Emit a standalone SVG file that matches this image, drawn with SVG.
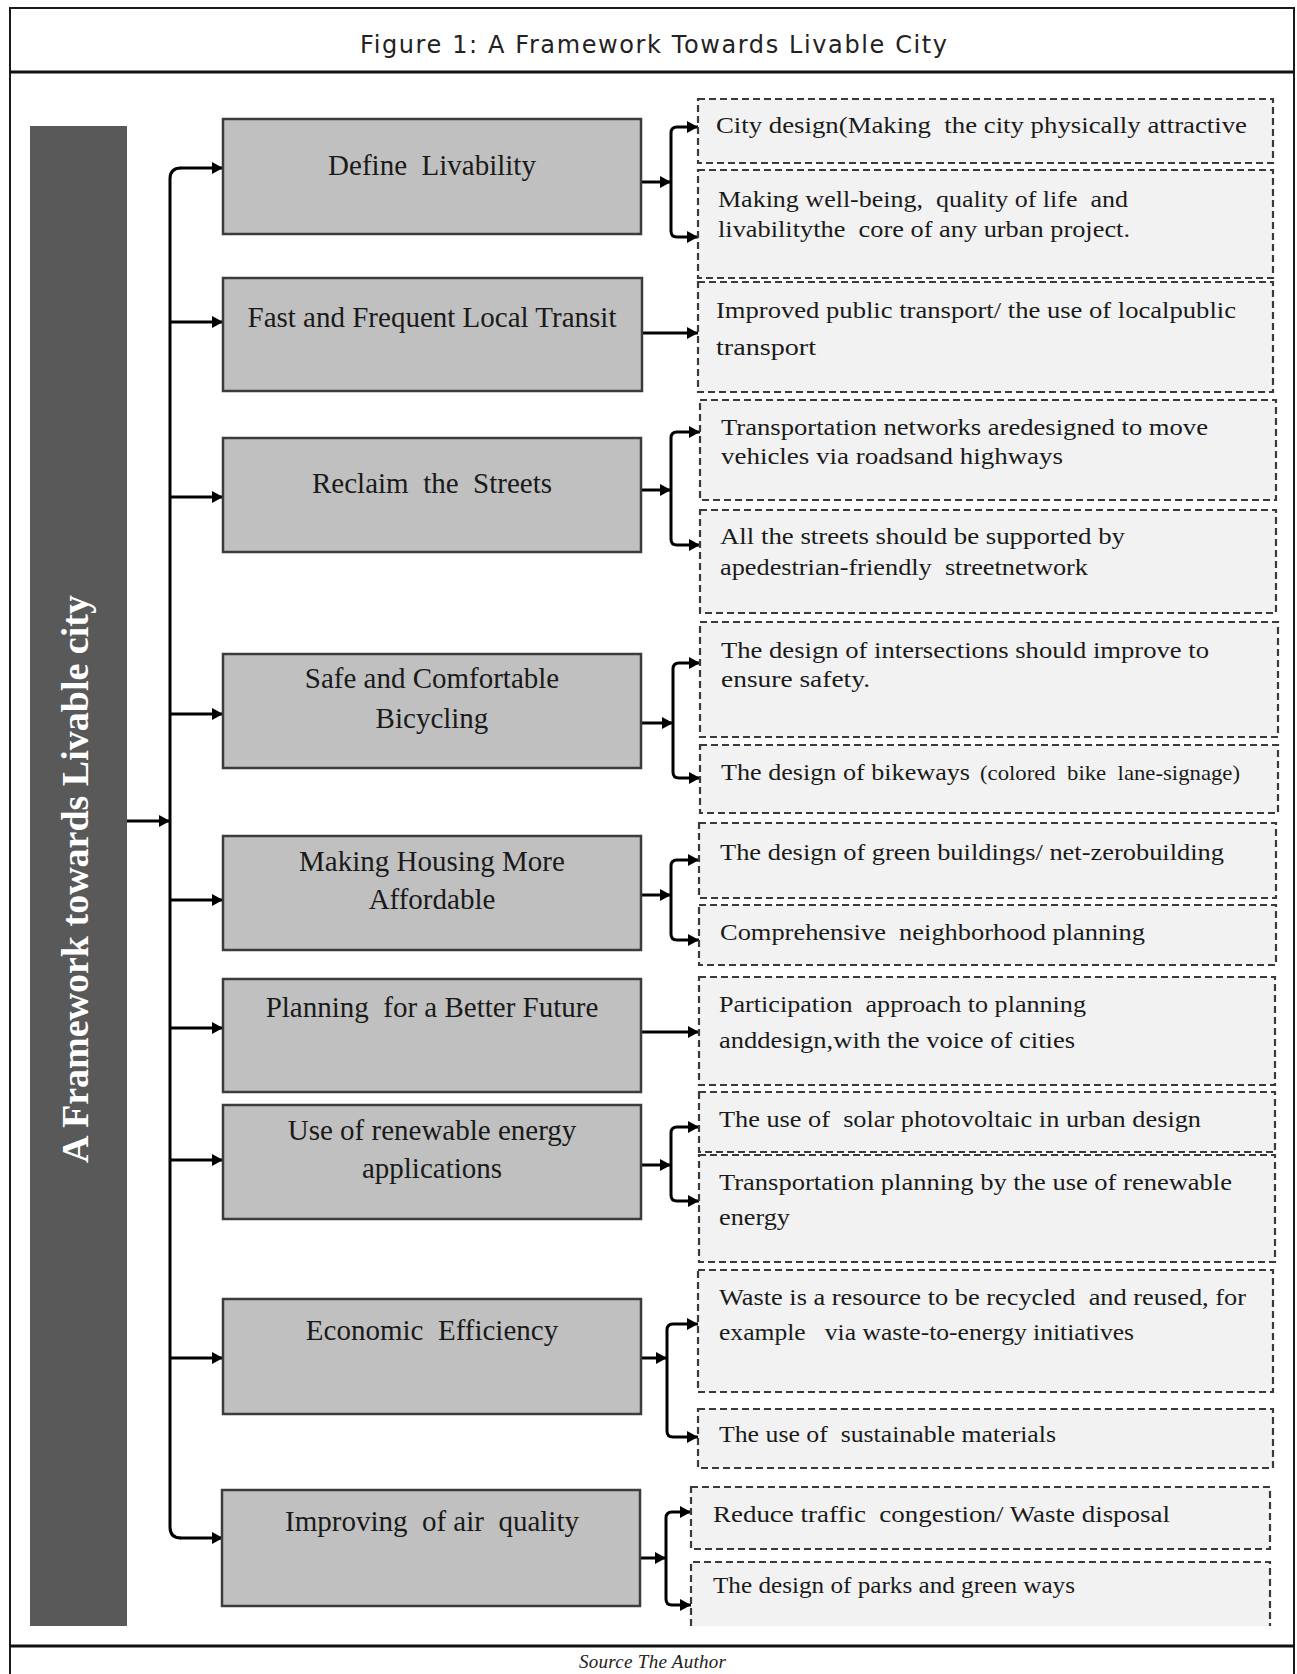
<svg xmlns="http://www.w3.org/2000/svg" width="1297" height="1674" viewBox="0 0 1297 1674">
<style>
text{white-space:pre}
.frame{fill:none;stroke:#1a1a1a;stroke-width:2}
.sep{stroke:#111;stroke-width:3}
.title{font-family:"DejaVu Sans","Liberation Sans",sans-serif;font-size:24px;fill:#222}
.src{font-family:"Liberation Serif",serif;font-style:italic;font-size:19px;fill:#222}
.bar{fill:#595959}
.bartxt{font-family:"Liberation Serif",serif;font-weight:bold;font-size:38px;fill:#fff}
.mbox{fill:#c0c0c0;stroke:#3c3c3c;stroke-width:2.5}
.mtxt{font-family:"Liberation Serif",serif;font-size:29px;fill:#1a1a1a;text-anchor:middle}
.dbox{fill:#f2f2f2;stroke:#3a3a3a;stroke-width:2.2;stroke-dasharray:7 4}
.dfill{fill:#f2f2f2}
.dtxt{font-family:"Liberation Serif",serif;font-size:24px;fill:#1a1a1a}
.stxt{font-family:"Liberation Serif",serif;font-size:21px;fill:#1a1a1a}
.ln{fill:none;stroke:#000;stroke-width:3}
.ar{fill:none;stroke:#000;stroke-width:3;marker-end:url(#ah)}
</style>
<defs>
<marker id="ah" viewBox="0 0 10 10" refX="10" refY="5" markerWidth="11" markerHeight="12" markerUnits="userSpaceOnUse" orient="auto" preserveAspectRatio="none">
<path d="M0,0 L10,5 L0,10 z" fill="#000"/>
</marker>
</defs>
<rect x="0" y="0" width="1297" height="1674" fill="#fff"/>
<g id="frame">
<rect class="frame" x="10" y="8" width="1284" height="1680"/>
<line class="sep" x1="10" y1="72" x2="1294" y2="72"/>
<line class="sep" x1="10" y1="1646" x2="1294" y2="1646"/>
<text class="title" x="360" y="53" textLength="587">Figure 1: A Framework Towards Livable City</text>
<text class="src" x="579" y="1668" textLength="147">Source The Author</text>
</g>
<g id="root-node">
<rect class="bar" x="30" y="126" width="97" height="1500"/>
<text class="bartxt" transform="translate(88,879) rotate(-90)" text-anchor="middle">A Framework towards Livable city</text>
</g>
<g id="connectors">
<line class="ar" x1="127" y1="821" x2="170" y2="821"/>
<path class="ln" d="M181,168 Q170,168 170,179 V1527 Q170,1538 181,1538"/>
<line class="ar" x1="180" y1="168" x2="223" y2="168"/>
<line class="ar" x1="170" y1="322" x2="223" y2="322"/>
<line class="ar" x1="170" y1="497" x2="223" y2="497"/>
<line class="ar" x1="170" y1="714" x2="223" y2="714"/>
<line class="ar" x1="170" y1="900" x2="223" y2="900"/>
<line class="ar" x1="170" y1="1028" x2="223" y2="1028"/>
<line class="ar" x1="170" y1="1160" x2="223" y2="1160"/>
<line class="ar" x1="170" y1="1358" x2="223" y2="1358"/>
<line class="ar" x1="180" y1="1538" x2="223" y2="1538"/>
<line class="ar" x1="641" y1="182" x2="671" y2="182"/>
<path class="ar" d="M671,182 V133 Q671,127 677,127 H698"/>
<path class="ar" d="M671,182 V231 Q671,237 677,237 H698"/>
<line class="ar" x1="642" y1="333" x2="698" y2="333"/>
<line class="ar" x1="641" y1="490" x2="671" y2="490"/>
<path class="ar" d="M671,490 V438 Q671,432 677,432 H700"/>
<path class="ar" d="M671,490 V539 Q671,545 677,545 H700"/>
<line class="ar" x1="641" y1="723" x2="673" y2="723"/>
<path class="ar" d="M673,723 V669 Q673,663 679,663 H700"/>
<path class="ar" d="M673,723 V772 Q673,778 679,778 H700"/>
<line class="ar" x1="641" y1="895" x2="671" y2="895"/>
<path class="ar" d="M671,895 V866 Q671,860 677,860 H699"/>
<path class="ar" d="M671,895 V934 Q671,940 677,940 H699"/>
<line class="ar" x1="641" y1="1032" x2="699" y2="1032"/>
<line class="ar" x1="638" y1="1165" x2="671" y2="1165"/>
<path class="ar" d="M671,1165 V1133 Q671,1127 677,1127 H699"/>
<path class="ar" d="M671,1165 V1195 Q671,1201 677,1201 H699"/>
<line class="ar" x1="637" y1="1358" x2="667" y2="1358"/>
<path class="ar" d="M667,1358 V1330 Q667,1324 673,1324 H698"/>
<path class="ar" d="M667,1358 V1431 Q667,1437 673,1437 H698"/>
<line class="ar" x1="636" y1="1558" x2="666" y2="1558"/>
<path class="ar" d="M666,1558 V1518 Q666,1512 672,1512 H691"/>
<path class="ar" d="M666,1558 V1599 Q666,1605 672,1605 H691"/>
</g>
<g id="n1">
<rect class="mbox" x="223" y="119" width="418" height="115"/>
<text class="mtxt" x="432" y="175">Define  Livability</text>
</g>
<g id="n2">
<rect class="mbox" x="223" y="278" width="419" height="113"/>
<text class="mtxt" x="432" y="327">Fast and Frequent Local Transit</text>
</g>
<g id="n3">
<rect class="mbox" x="223" y="438" width="418" height="114"/>
<text class="mtxt" x="432" y="493">Reclaim  the  Streets</text>
</g>
<g id="n4">
<rect class="mbox" x="223" y="654" width="418" height="114"/>
<text class="mtxt" x="432" y="688">Safe and Comfortable</text>
<text class="mtxt" x="432" y="728">Bicycling</text>
</g>
<g id="n5">
<rect class="mbox" x="223" y="836" width="418" height="114"/>
<text class="mtxt" x="432" y="871">Making Housing More</text>
<text class="mtxt" x="432" y="909">Affordable</text>
</g>
<g id="n6">
<rect class="mbox" x="223" y="979" width="418" height="113"/>
<text class="mtxt" x="432" y="1017">Planning  for a Better Future</text>
</g>
<g id="n7">
<rect class="mbox" x="223" y="1105" width="418" height="114"/>
<text class="mtxt" x="432" y="1140">Use of renewable energy</text>
<text class="mtxt" x="432" y="1178">applications</text>
</g>
<g id="n8">
<rect class="mbox" x="223" y="1299" width="418" height="115"/>
<text class="mtxt" x="432" y="1340">Economic  Efficiency</text>
</g>
<g id="n9">
<rect class="mbox" x="222" y="1490" width="418" height="116"/>
<text class="mtxt" x="432" y="1531">Improving  of air  quality</text>
</g>
<g id="a1">
<rect class="dbox" x="698" y="99" width="575" height="64"/>
<text class="dtxt" x="716" y="133" textLength="531" lengthAdjust="spacingAndGlyphs">City design(Making  the city physically attractive</text>
</g>
<g id="a2">
<rect class="dbox" x="698" y="170" width="575" height="108"/>
<text class="dtxt" x="718" y="207" textLength="410" lengthAdjust="spacingAndGlyphs">Making well-being,  quality of life  and</text>
<text class="dtxt" x="718" y="237" textLength="412" lengthAdjust="spacingAndGlyphs">livabilitythe  core of any urban project.</text>
</g>
<g id="b1">
<rect class="dbox" x="698" y="282" width="575" height="110"/>
<text class="dtxt" x="716" y="318" textLength="520" lengthAdjust="spacingAndGlyphs">Improved public transport/ the use of localpublic</text>
<text class="dtxt" x="716" y="355" textLength="100" lengthAdjust="spacingAndGlyphs">transport</text>
</g>
<g id="c1">
<rect class="dbox" x="700" y="400" width="576" height="100"/>
<text class="dtxt" x="721" y="435" textLength="487" lengthAdjust="spacingAndGlyphs">Transportation networks aredesigned to move</text>
<text class="dtxt" x="721" y="464" textLength="342" lengthAdjust="spacingAndGlyphs">vehicles via roadsand highways</text>
</g>
<g id="c2">
<rect class="dbox" x="700" y="510" width="576" height="103"/>
<text class="dtxt" x="720" y="544" textLength="405" lengthAdjust="spacingAndGlyphs">All the streets should be supported by</text>
<text class="dtxt" x="720" y="575" textLength="368" lengthAdjust="spacingAndGlyphs">apedestrian-friendly  streetnetwork</text>
</g>
<g id="d1">
<rect class="dbox" x="700" y="622" width="578" height="115"/>
<text class="dtxt" x="721" y="658" textLength="488" lengthAdjust="spacingAndGlyphs">The design of intersections should improve to</text>
<text class="dtxt" x="721" y="687" textLength="149" lengthAdjust="spacingAndGlyphs">ensure safety.</text>
</g>
<g id="d2">
<rect class="dbox" x="700" y="745" width="578" height="68"/>
<text class="dtxt" x="721" y="780" textLength="249" lengthAdjust="spacingAndGlyphs">The design of bikeways</text>
<text class="stxt" x="980" y="780" textLength="260" lengthAdjust="spacingAndGlyphs">(colored  bike  lane-signage)</text>
</g>
<g id="e1">
<rect class="dbox" x="699" y="823" width="577" height="75"/>
<text class="dtxt" x="720" y="860" textLength="504" lengthAdjust="spacingAndGlyphs">The design of green buildings/ net-zerobuilding</text>
</g>
<g id="e2">
<rect class="dbox" x="699" y="905" width="577" height="60"/>
<text class="dtxt" x="720" y="940" textLength="425" lengthAdjust="spacingAndGlyphs">Comprehensive  neighborhood planning</text>
</g>
<g id="f1">
<rect class="dbox" x="699" y="977" width="576" height="108"/>
<text class="dtxt" x="719" y="1012" textLength="367" lengthAdjust="spacingAndGlyphs">Participation  approach to planning</text>
<text class="dtxt" x="719" y="1048" textLength="356" lengthAdjust="spacingAndGlyphs">anddesign,with the voice of cities</text>
</g>
<g id="g1">
<rect class="dbox" x="699" y="1092" width="576" height="60"/>
<text class="dtxt" x="719" y="1127" textLength="482" lengthAdjust="spacingAndGlyphs">The use of  solar photovoltaic in urban design</text>
</g>
<g id="g2">
<rect class="dbox" x="699" y="1155" width="576" height="107"/>
<text class="dtxt" x="719" y="1190" textLength="513" lengthAdjust="spacingAndGlyphs">Transportation planning by the use of renewable</text>
<text class="dtxt" x="719" y="1225" textLength="71" lengthAdjust="spacingAndGlyphs">energy</text>
</g>
<g id="h1">
<rect class="dbox" x="698" y="1270" width="575" height="122"/>
<text class="dtxt" x="719" y="1305" textLength="527" lengthAdjust="spacingAndGlyphs">Waste is a resource to be recycled  and reused, for</text>
<text class="dtxt" x="719" y="1340" textLength="415" lengthAdjust="spacingAndGlyphs">example   via waste-to-energy initiatives</text>
</g>
<g id="h2">
<rect class="dbox" x="698" y="1409" width="575" height="59"/>
<text class="dtxt" x="719" y="1442" textLength="337" lengthAdjust="spacingAndGlyphs">The use of  sustainable materials</text>
</g>
<g id="i1">
<rect class="dbox" x="691" y="1487" width="579" height="62"/>
<text class="dtxt" x="713" y="1522" textLength="457" lengthAdjust="spacingAndGlyphs">Reduce traffic  congestion/ Waste disposal</text>
</g>
<g id="i2">
<rect class="dfill" x="691" y="1562" width="579" height="64"/>
<path class="dbox" style="fill:none" d="M691,1626 V1562 H1270 V1626"/>
<text class="dtxt" x="713" y="1593" textLength="362" lengthAdjust="spacingAndGlyphs">The design of parks and green ways</text>
</g>
</svg>
